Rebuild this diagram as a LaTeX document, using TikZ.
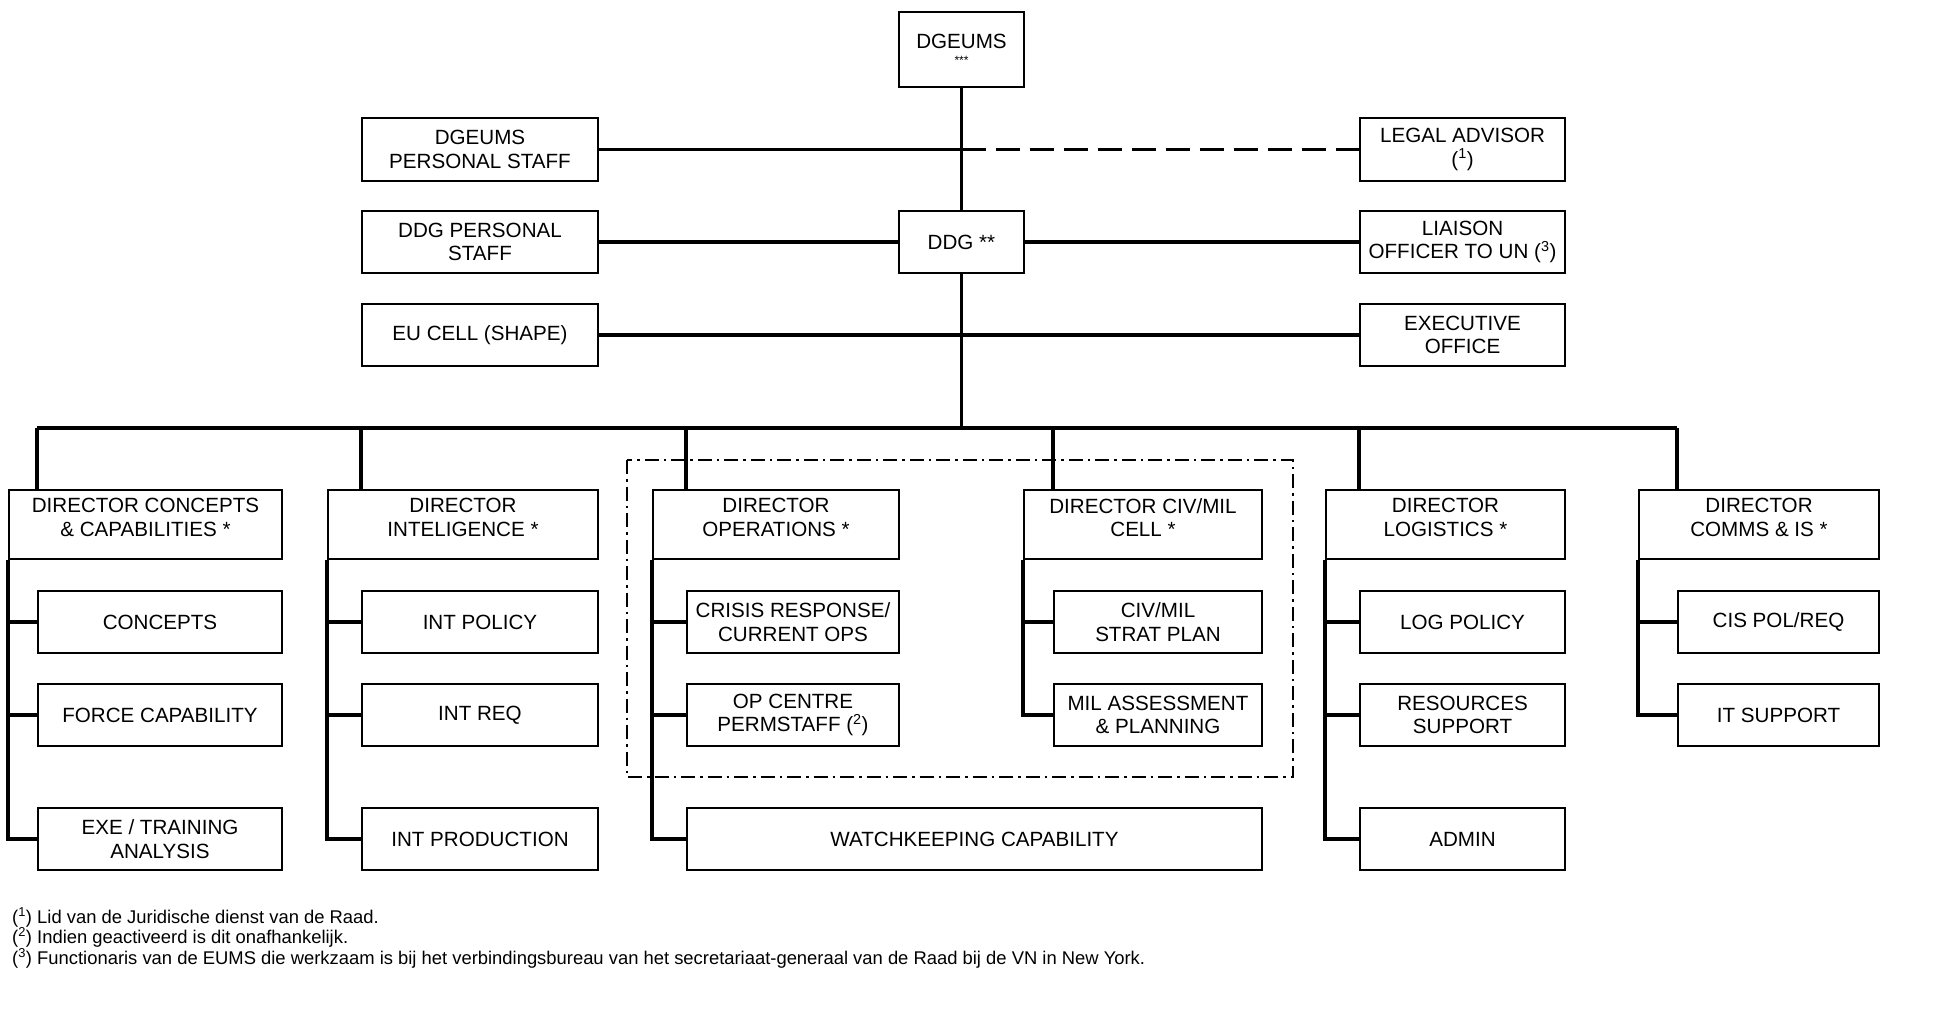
\documentclass[tikz,border=0pt]{standalone}
\usepackage{fontspec}
\setmainfont{Liberation Sans}
\usepackage{tikz}

\begin{document}
\begin{tikzpicture}[
    x=1pt, y=-1pt,
    box/.style={rectangle, draw=black, line width=2pt, inner sep=0pt,
                align=center, fill=white,
                font=\fontsize{20.6}{23.5}\selectfont},
    dirbox/.style={box, minimum height=69pt, text depth=14pt},
    link/.style={line width=3.5pt},
    dashlink/.style={line width=3pt, dash pattern=on 24pt off 10pt},
    opsframe/.style={line width=1.6pt, dash pattern=on 14pt off 5pt on 2.5pt off 5pt},
    note/.style={anchor=base west, inner sep=0pt, font=\fontsize{18.4}{20}\selectfont}
]
\useasboundingbox (0,0) rectangle (1940,1020);

% ================= TOP LEVEL =================
\node[box, minimum width=125pt, minimum height=75pt] (DGEUMS) at (961.5, 49.5)
    {DGEUMS\\[-7pt]{\fontsize{12}{12}\selectfont ***}};
\node[box, minimum width=125pt, minimum height=62pt] (DDG) at (961.5, 242) {DDG **};

\node[box, minimum width=236pt, minimum height=63pt] (DgPersStaff) at (480, 149.5) {DGEUMS\\PERSONAL STAFF};
\node[box, minimum width=236pt, minimum height=62pt] (DdgPersStaff) at (480, 242) {DDG PERSONAL\\STAFF};
\node[box, minimum width=236pt, minimum height=62pt] (EuCell) at (480, 335) {EU CELL (SHAPE)};

\node[box, minimum width=205pt, minimum height=63pt] (Legal) at (1462.5, 149.5) {LEGAL ADVISOR\\(\textsuperscript{1})};
\node[box, minimum width=205pt, minimum height=62pt] (Liaison) at (1462.5, 242) {LIAISON\\OFFICER TO UN (\textsuperscript{3})};
\node[box, minimum width=205pt, minimum height=62pt] (Exec) at (1462.5, 335) {EXECUTIVE\\OFFICE};

\coordinate (Bus) at (961.5, 428);

% ================= DIRECTORS =================
\node[dirbox, minimum width=273pt] (DirConcepts) at (145.5, 524.5) {DIRECTOR CONCEPTS\\\& CAPABILITIES *};
\node[dirbox, minimum width=270pt] (DirInt) at (463, 524.5) {DIRECTOR\\INTELIGENCE *};
\node[dirbox, minimum width=246pt] (DirOps) at (776, 524.5) {DIRECTOR\\OPERATIONS *};
\node[dirbox, minimum width=238pt] (DirCivMil) at (1143, 524.5) {DIRECTOR CIV/MIL\\CELL *};
\node[dirbox, minimum width=239pt] (DirLog) at (1445.5, 524.5) {DIRECTOR\\LOGISTICS *};
\node[dirbox, minimum width=240pt] (DirComms) at (1759, 524.5) {DIRECTOR\\COMMS \& IS *};

% ================= BRANCHES =================
\node[box, minimum width=244pt, minimum height=62pt] (Concepts) at (160, 622) {CONCEPTS};
\node[box, minimum width=244pt, minimum height=62pt] (ForceCap) at (160, 715) {FORCE CAPABILITY};
\node[box, minimum width=244pt, minimum height=62pt] (ExeTrain) at (160, 839) {EXE / TRAINING\\ANALYSIS};

\node[box, minimum width=236pt, minimum height=62pt] (IntPolicy) at (480, 622) {INT POLICY};
\node[box, minimum width=236pt, minimum height=62pt] (IntReq) at (480, 715) {INT REQ};
\node[box, minimum width=236pt, minimum height=62pt] (IntProd) at (480, 839) {INT PRODUCTION};

\node[box, minimum width=212pt, minimum height=62pt] (Crisis) at (793, 622) {CRISIS RESPONSE/\\CURRENT OPS};
\node[box, minimum width=212pt, minimum height=62pt] (OpCentre) at (793, 715) {OP CENTRE\\PERMSTAFF (\textsuperscript{2})};
\node[box, minimum width=575pt, minimum height=62pt] (Watch) at (974.5, 839) {WATCHKEEPING CAPABILITY};

\node[box, minimum width=208pt, minimum height=62pt] (StratPlan) at (1158, 622) {CIV/MIL\\STRAT PLAN};
\node[box, minimum width=208pt, minimum height=62pt] (MilAssess) at (1158, 715) {MIL ASSESSMENT\\\& PLANNING};

\node[box, minimum width=205pt, minimum height=62pt] (LogPolicy) at (1462.5, 622) {LOG POLICY};
\node[box, minimum width=205pt, minimum height=62pt] (ResSupport) at (1462.5, 715) {RESOURCES\\SUPPORT};
\node[box, minimum width=205pt, minimum height=62pt] (Admin) at (1462.5, 839) {ADMIN};

\node[box, minimum width=201pt, minimum height=62pt] (CisPol) at (1778.5, 622) {CIS POL/REQ};
\node[box, minimum width=201pt, minimum height=62pt] (ItSupport) at (1778.5, 715) {IT SUPPORT};

% ops + civ/mil frame
\draw[opsframe] (627, 460) rectangle (1293, 777);

% ================= FOOTNOTES =================
\node[note] (Note1) at (12, 923) {(\textsuperscript{1}) Lid van de Juridische dienst van de Raad.};
\node[note] (Note2) at (12, 943) {(\textsuperscript{2}) Indien geactiveerd is dit onafhankelijk.};
\node[note] (Note3) at (12, 964) {(\textsuperscript{3}) Functionaris van de EUMS die werkzaam is bij het verbindingsbureau van het secretariaat-generaal van de Raad bij de VN in New York.};

% ================= DRAWING LINES =================
\draw[link] (DGEUMS.south) -- (DDG.north);
\draw[link] (DDG.south) -- (Bus);
\draw[link] (DgPersStaff.east) -- (DgPersStaff.east -| DGEUMS.south);
\draw[dashlink] (DgPersStaff.east -| DGEUMS.south) -- (Legal.west);
\draw[link] (DdgPersStaff.east) -- (DDG.west);
\draw[link] (DDG.east) -- (Liaison.west);
\draw[link] (EuCell.east) -- (Exec.west);

\draw[link] (Concepts.west |- Bus) -- (CisPol.west |- Bus);
\draw[link] (Concepts.west |- Bus) -- (Concepts.west |- DirConcepts.north);
\draw[link] (IntPolicy.west |- Bus) -- (IntPolicy.west |- DirInt.north);
\draw[link] (Crisis.west |- Bus) -- (Crisis.west |- DirOps.north);
\draw[link] (StratPlan.west |- Bus) -- (StratPlan.west |- DirCivMil.north);
\draw[link] (LogPolicy.west |- Bus) -- (LogPolicy.west |- DirLog.north);
\draw[link] (CisPol.west |- Bus) -- (CisPol.west |- DirComms.north);

\draw[link] (DirConcepts.south west) |- (ExeTrain.west);
\draw[link] (DirConcepts.south west |- Concepts.west) -- (Concepts.west);
\draw[link] (DirConcepts.south west |- ForceCap.west) -- (ForceCap.west);

\draw[link] (DirInt.south west) |- (IntProd.west);
\draw[link] (DirInt.south west |- IntPolicy.west) -- (IntPolicy.west);
\draw[link] (DirInt.south west |- IntReq.west) -- (IntReq.west);

\draw[link] (DirOps.south west) |- (Watch.west);
\draw[link] (DirOps.south west |- Crisis.west) -- (Crisis.west);
\draw[link] (DirOps.south west |- OpCentre.west) -- (OpCentre.west);

\draw[link] (DirCivMil.south west) |- (MilAssess.west);
\draw[link] (DirCivMil.south west |- StratPlan.west) -- (StratPlan.west);

\draw[link] (DirLog.south west) |- (Admin.west);
\draw[link] (DirLog.south west |- LogPolicy.west) -- (LogPolicy.west);
\draw[link] (DirLog.south west |- ResSupport.west) -- (ResSupport.west);

\draw[link] (DirComms.south west) |- (ItSupport.west);
\draw[link] (DirComms.south west |- CisPol.west) -- (CisPol.west);

\end{tikzpicture}
\end{document}
